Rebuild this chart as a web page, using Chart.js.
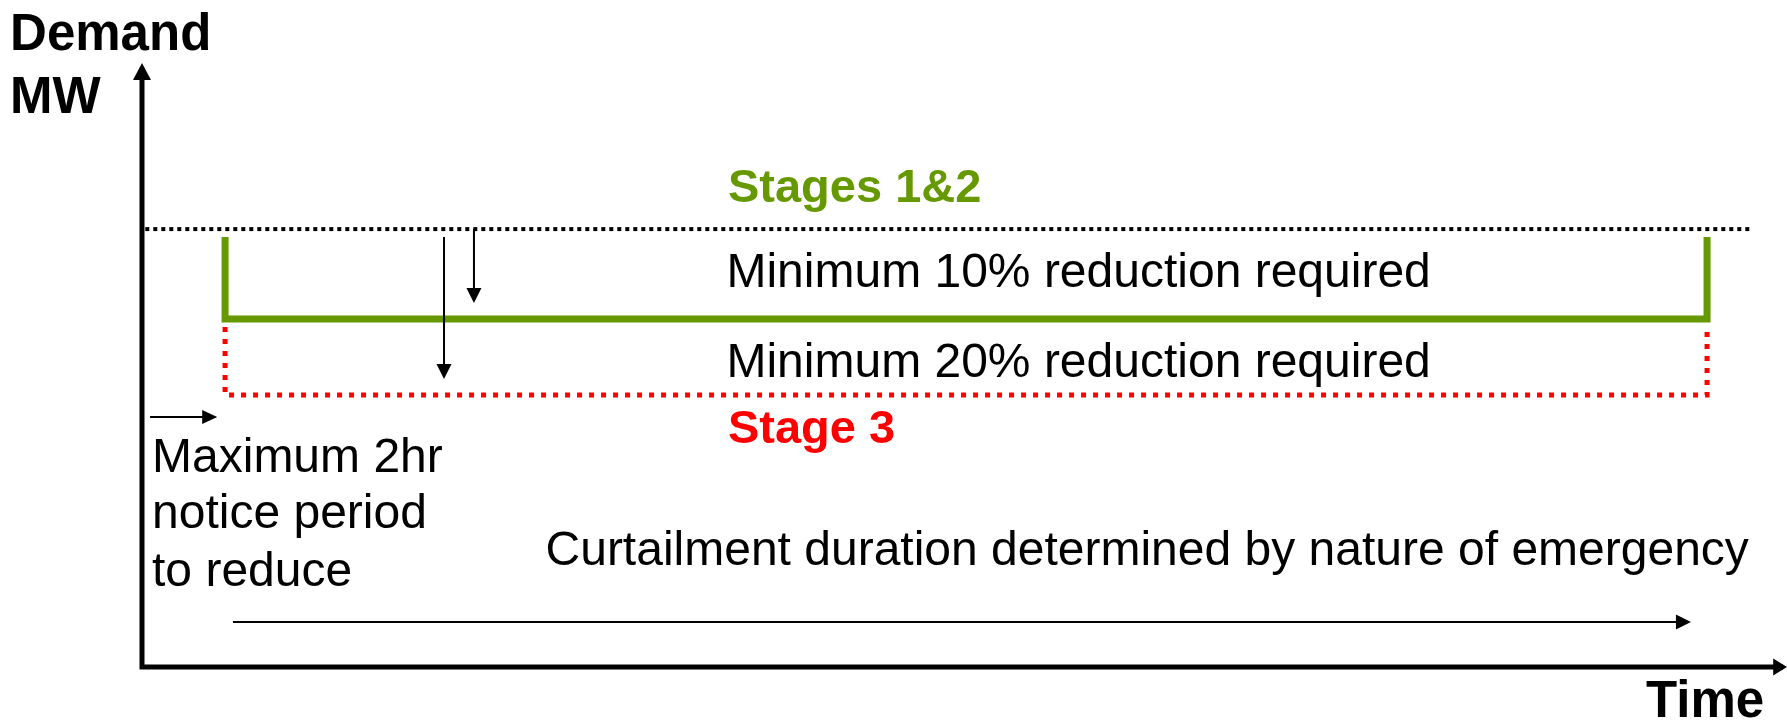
<!DOCTYPE html>
<html>
<head>
<meta charset="utf-8">
<title>Demand curtailment stages</title>
<script src="https://cdn.jsdelivr.net/npm/chart.js@4.4.1/dist/chart.umd.min.js"></script>
<style>
  html, body { margin: 0; padding: 0; background: #fff; }
  canvas { display: block; }
</style>
</head>
<body>
<canvas id="chart" width="1787" height="721" style="width:1787px;height:721px"></canvas>
<script>
// Both axes run 0..100 in arbitrary units (the diagram has no real scale),
// values read off the picture.
const axisX = [0, 0, 99.76];
const axisY = [99.2, 0, 0];

const normalX = [0.2, 97.87];          // normal demand (dotted)
const normalY = [72.5, 72.5];

const stage12X = [5.05, 5.05, 95.14, 95.14];
const stage12Y = [71.2, 57.62, 57.62, 71.2];

const stage3X = [5.05, 5.05, 95.14, 95.14];
const stage3Y = [56.29, 45.03, 45.03, 56.29];

// reduction arrows: x, then from / to demand
const cut10X = [20.18, 20.18];
const cut10Y = [72.5, 60.6];
const cut20X = [18.36, 18.36];
const cut20Y = [71.2, 48.0];

// notice period and duration arrows
const noticeX = [0.49, 4.44];
const noticeY = [41.39, 41.39];
const durationX = [5.53, 94.04];
const durationY = [7.45, 7.45];

const GREEN = '#669900';
const RED = '#ff0000';
const FONT = "'Liberation Sans', Arial, Helvetica, sans-serif";

const notes = [
    { text: 'Demand', x: -8.02, y: 102.15, font: 'bold 51px ' + FONT, color: '#000' },
    { text: 'MW', x: -8.02, y: 91.72, font: 'bold 51px ' + FONT, color: '#000' },
    { text: 'Stages 1&2', x: 35.62, y: 76.99, font: 'bold 47px ' + FONT, color: GREEN },
    { text: 'Minimum 10% reduction required', x: 35.53, y: 62.91, font: '48px ' + FONT, color: '#000' },
    { text: 'Minimum 20% reduction required', x: 35.53, y: 48.01, font: '48px ' + FONT, color: '#000' },
    { text: 'Stage 3', x: 35.62, y: 37.09, font: 'bold 47px ' + FONT, color: RED },
    { text: 'Maximum 2hr', x: 0.61, y: 32.28, font: '48px ' + FONT, color: '#000' },
    { text: 'notice period', x: 0.61, y: 23.01, font: '48px ' + FONT, color: '#000' },
    { text: 'to reduce', x: 0.61, y: 13.41, font: '48px ' + FONT, color: '#000' },
    { text: 'Curtailment duration determined by nature of emergency', x: 24.53, y: 16.89, font: '48px ' + FONT, color: '#000' },
    { text: 'Time', x: 91.43, y: -8.28, font: 'bold 51px ' + FONT, color: '#000' }
];

const pts = (xs, ys) => xs.map((x, i) => ({ x: x, y: ys[i] }));

function lineSet(xs, ys, color, width, extra) {
    return Object.assign({
        data: pts(xs, ys),
        showLine: true,
        borderColor: color,
        backgroundColor: color,
        borderWidth: width,
        pointRadius: 0,
        pointHoverRadius: 0,
        fill: false,
        tension: 0,
        clip: false,
        borderJoinStyle: 'miter',
        borderCapStyle: 'butt'
    }, extra || {});
}

// arrow heads drawn at the ends of a dataset's line
const arrowHeads = {
    id: 'arrowHeads',
    afterDatasetsDraw(chart) {
        const ctx = chart.ctx;
        chart.data.datasets.forEach((ds, i) => {
            if (!ds.heads) return;
            const p = chart.getDatasetMeta(i).data;
            ds.heads.forEach(h => {
                const tip = h.at === 'start' ? p[0] : p[p.length - 1];
                const prev = h.at === 'start' ? p[1] : p[p.length - 2];
                const ang = Math.atan2(tip.y - prev.y, tip.x - prev.x);
                const ext = ds.borderWidth / 2 * h.len / h.half;
                ctx.save();
                ctx.translate(tip.x, tip.y);
                ctx.rotate(ang);
                ctx.beginPath();
                ctx.moveTo(ext, 0);
                ctx.lineTo(ext - h.len, -h.half);
                ctx.lineTo(ext - h.len, h.half);
                ctx.closePath();
                ctx.fillStyle = ds.borderColor;
                ctx.fill();
                ctx.restore();
            });
        });
    }
};

const textNotes = {
    id: 'textNotes',
    afterDraw(chart) {
        const ctx = chart.ctx;
        const xs = chart.scales.x, ys = chart.scales.y;
        ctx.save();
        ctx.textAlign = 'left';
        ctx.textBaseline = 'alphabetic';
        notes.forEach(n => {
            ctx.font = n.font;
            ctx.fillStyle = n.color;
            ctx.fillText(n.text, xs.getPixelForValue(n.x), ys.getPixelForValue(n.y));
        });
        ctx.restore();
    }
};

new Chart(document.getElementById('chart'), {
    type: 'scatter',
    data: {
        datasets: [
            lineSet(axisX, axisY, '#000', 5, { heads: [{ at: 'start', len: 17, half: 9 }, { at: 'end', len: 14, half: 8.5 }] }),
            lineSet(cut10X, cut10Y, '#000', 2, { heads: [{ at: 'end', len: 15, half: 7.5 }] }),
            lineSet(cut20X, cut20Y, '#000', 2, { heads: [{ at: 'end', len: 15, half: 7.5 }] }),
            lineSet(noticeX, noticeY, '#000', 2, { heads: [{ at: 'end', len: 15, half: 7 }] }),
            lineSet(durationX, durationY, '#000', 2, { heads: [{ at: 'end', len: 15, half: 7.5 }] }),
            lineSet(stage12X, stage12Y, GREEN, 7),
            lineSet(stage3X, stage3Y, RED, 5, { borderDash: [5, 7] }),
            lineSet(normalX, normalY, '#000', 4, { borderDash: [4, 4] })
        ]
    },
    options: {
        responsive: false,
        devicePixelRatio: 1,
        animation: false,
        events: [],
        layout: { padding: { left: 142, right: 0, top: 63, bottom: 54 } },
        scales: {
            x: { type: 'linear', min: 0, max: 100, display: false },
            y: { type: 'linear', min: 0, max: 100, display: false }
        },
        plugins: {
            legend: { display: false },
            tooltip: { enabled: false }
        }
    },
    plugins: [arrowHeads, textNotes]
});
</script>
</body>
</html>
